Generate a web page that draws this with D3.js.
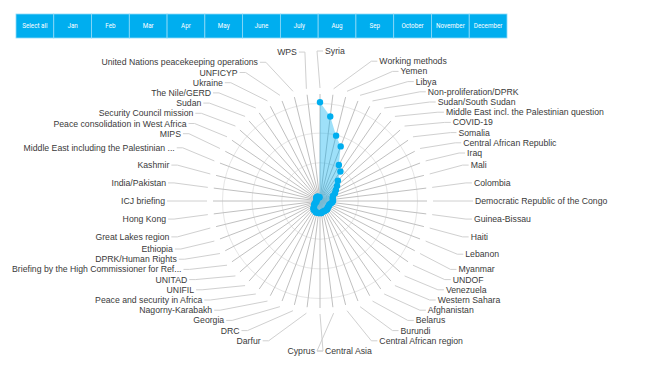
<!DOCTYPE html>
<html>
<head>
<meta charset="utf-8">
<script src="https://cdn.jsdelivr.net/npm/d3@7"></script>
<style>
  body { margin: 0; background: #fff; }
  svg { display: block; font-family: "Liberation Sans", Arial, sans-serif; }
</style>
</head>
<body>
<div id="chart"></div>
<script>
const months = ['Select all', 'Jan', 'Feb', 'Mar', 'Apr', 'May', 'June', 'July', 'Aug', 'Sep', 'October', 'November', 'December'];

const topics = [
    'Syria', 'Working methods', 'Yemen', 'Libya', 'Non-proliferation/DPRK', 'Sudan/South Sudan',
    'Middle East incl. the Palestinian question', 'COVID-19', 'Somalia', 'Central African Republic',
    'Iraq', 'Mali', 'Colombia', 'Democratic Republic of the Congo', 'Guinea-Bissau', 'Haiti',
    'Lebanon', 'Myanmar', 'UNDOF', 'Venezuela', 'Western Sahara', 'Afghanistan', 'Belarus',
    'Burundi', 'Central African region', 'Central Asia', 'Cyprus', 'Darfur', 'DRC', 'Georgia',
    'Nagorny-Karabakh', 'Peace and security in Africa', 'UNIFIL', 'UNITAD',
    'Briefing by the High Commissioner for Ref...', 'DPRK/Human Rights', 'Ethiopia',
    'Great Lakes region', 'Hong Kong', 'ICJ briefing', 'India/Pakistan', 'Kashmir',
    'Middle East including the Palestinian ...', 'MIPS', 'Peace consolidation in West Africa',
    'Security Council mission', 'Sudan', 'The Nile/GERD', 'Ukraine', 'UNFICYP',
    'United Nations peacekeeping operations', 'WPS'
];

const meetings = [
    20.2, 17.9, 14.9, 13.4, 10.4, 9.6, 8.1, 7.4, 6.8, 6.4,
    5.9, 5.75, 5.75, 5.75, 5.6, 5.4, 5.25, 5.25, 5.25, 5.25,
    5.4, 5.4, 5.4, 5.4, 5.4, 5.6, 5.6, 5.6, 5.6, 5.6,
    5.4, 5.4, 5.25, 4.9, 4.75, 4.6, 4.4, 4.2, 4.2, 4.2,
    4.2, 4.2, 4.2, 4.2, 4.2, 4.4, 4.4, 4.4, 4.4, 4.2,
    4.2, 4.2
];

const ringTicks = [5, 10, 15, 20];

const width = 655;
const height = 375;
const cx = 320;
const cy = 201;
const plotRadius = 107;
const sliceRadius = 113;
const labelRadius = 150;

const svg = d3.select('#chart')
    .append('svg')
    .attr('width', width)
    .attr('height', height);

// month buttons
const xBtn = d3.scaleBand().domain(months).range([16, 507]);
const btn = svg.append('g').selectAll('g')
    .data(months)
    .join('g')
    .attr('transform', d => `translate(${xBtn(d)},14)`);
btn.append('rect')
    .attr('width', xBtn.bandwidth())
    .attr('height', 24)
    .attr('fill', '#00aeef')
    .attr('stroke', '#8fd9f7')
    .attr('stroke-width', 0.8);
btn.append('text')
    .attr('x', xBtn.bandwidth() / 2)
    .attr('y', 12)
    .attr('dy', '0.35em')
    .attr('text-anchor', 'middle')
    .attr('fill', '#fff')
    .style('font-family', 'Roboto, sans-serif')
    .style('font-size', '6.3px')
    .text(d => d);

const angle = d3.scaleLinear().domain([0, topics.length]).range([0, 2 * Math.PI]);
const r = d3.scaleLinear().domain([3.55, 21.6]).range([0, plotRadius]);

const g = svg.append('g').attr('transform', `translate(${cx},${cy})`);

// rings
g.selectAll('.ring')
    .data(ringTicks)
    .join('circle')
    .attr('class', 'ring')
    .attr('r', d => r(d))
    .attr('fill', 'none')
    .attr('stroke', '#e6e6e6')
    .attr('stroke-width', 1);

// spokes
g.selectAll('.spoke')
    .data(topics)
    .join('line')
    .attr('class', 'spoke')
    .attr('x1', 0).attr('y1', 0)
    .attr('x2', (d, i) => Math.sin(angle(i)) * plotRadius)
    .attr('y2', (d, i) => -Math.cos(angle(i)) * plotRadius)
    .attr('stroke', '#c0c0c0')
    .attr('stroke-width', 1);

// label layout, one column per side
const labels = topics.map((name, i) => {
    const a = angle(i);
    return {
        name, i, a,
        side: i < topics.length / 2 ? 1 : -1,
        target: -Math.cos(a) * labelRadius
    };
});

function spread(items) {
    const gap = 10.2;
    const top = -labelRadius, bottom = labelRadius;
    items.sort((a, b) => a.target - b.target);
    items.forEach((d, k) => {
        d.y = Math.max(d.target, top, k ? items[k - 1].y + gap : top);
    });
    for (let k = items.length - 1; k >= 0; k--) {
        const d = items[k];
        d.y = Math.min(d.y, bottom, k < items.length - 1 ? items[k + 1].y - gap : bottom);
    }
}
spread(labels.filter(d => d.side === 1));
spread(labels.filter(d => d.side === -1));

labels.forEach(d => {
    const dy = Math.max(-labelRadius, Math.min(labelRadius, d.y));
    d.xc = d.side * Math.sqrt(labelRadius * labelRadius - dy * dy);
});

// connectors
g.selectAll('.connector')
    .data(labels)
    .join('path')
    .attr('class', 'connector')
    .attr('fill', 'none')
    .attr('stroke', '#d0d0d0')
    .attr('stroke-width', 1)
    .attr('d', d => {
        const tx = Math.sin(d.a) * sliceRadius;
        const ty = -Math.cos(d.a) * sliceRadius;
        return `M${d.xc + d.side * 3},${d.y}L${d.xc - d.side * 3},${d.y}L${tx},${ty}`;
    });

g.selectAll('.label')
    .data(labels)
    .join('text')
    .attr('class', 'label')
    .attr('x', d => d.xc + d.side * 5)
    .attr('y', d => d.y)
    .attr('dy', '0.35em')
    .attr('text-anchor', d => d.side === 1 ? 'start' : 'end')
    .attr('fill', '#3a3a3a')
    .style('font-size', '8.7px')
    .text(d => d.name);

// series
const radial = d3.lineRadial()
    .angle((d, i) => angle(i))
    .radius(d => r(d))
    .curve(d3.curveLinearClosed);

g.append('path')
    .datum(meetings)
    .attr('d', radial)
    .attr('fill', '#00aeef')
    .attr('fill-opacity', 0.38)
    .attr('stroke', 'none');

g.selectAll('.dot')
    .data(meetings)
    .join('circle')
    .attr('class', 'dot')
    .attr('cx', (d, i) => Math.sin(angle(i)) * r(d))
    .attr('cy', (d, i) => -Math.cos(angle(i)) * r(d))
    .attr('r', 3.2)
    .attr('fill', '#00aeef');
</script>
</body>
</html>
